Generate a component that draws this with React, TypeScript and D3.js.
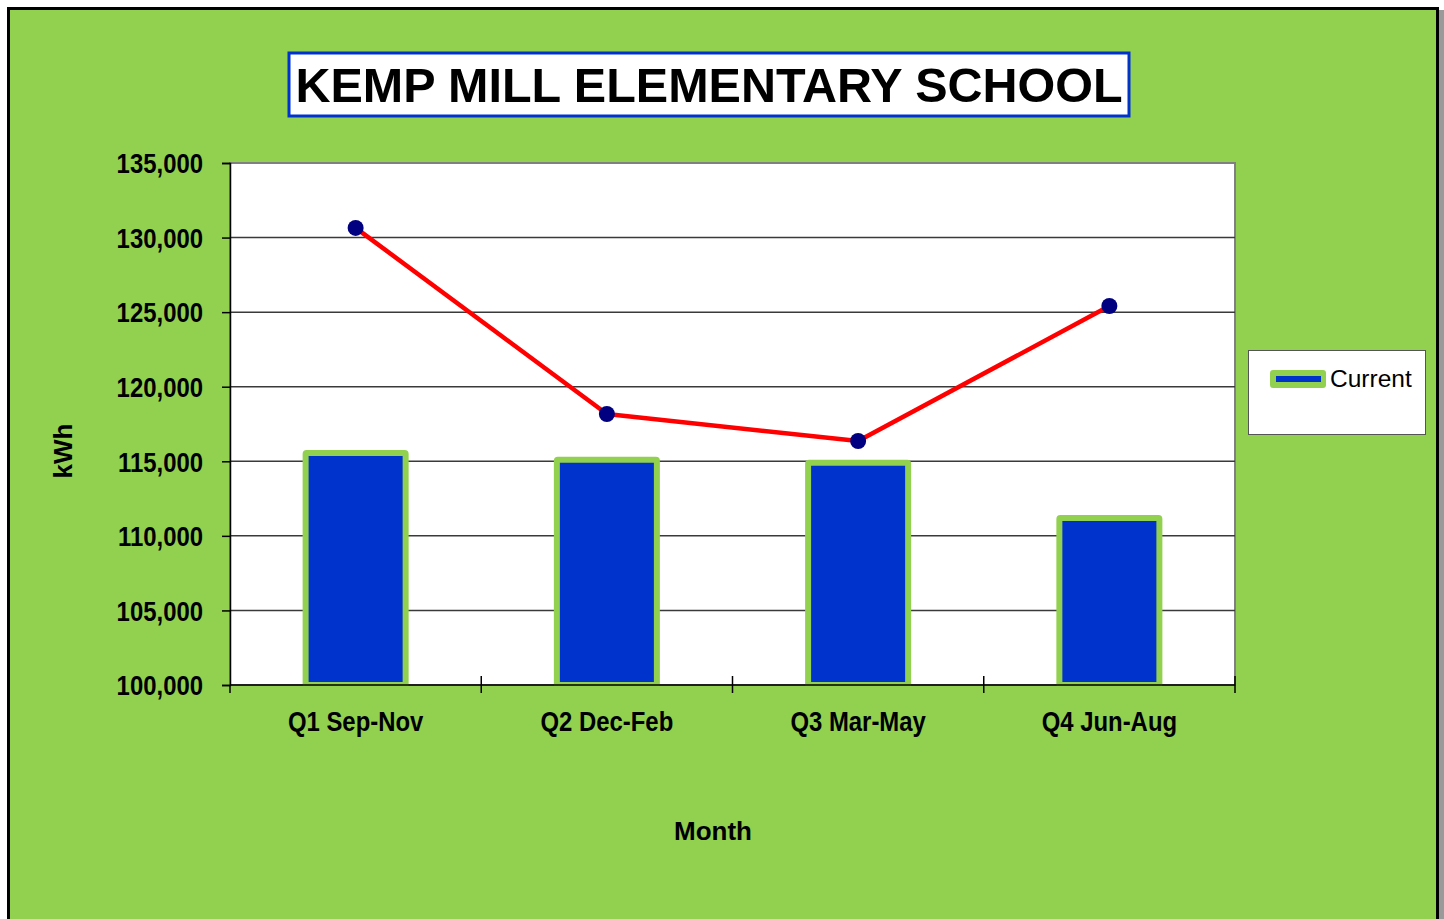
import React, { useEffect, useRef } from "react";
import * as d3 from "d3";

const quarters = ["Q1 Sep-Nov", "Q2 Dec-Feb", "Q3 Mar-May", "Q4 Jun-Aug"];
const currentKwh = [115550, 115100, 114900, 111200];
const previousKwh = [130650, 118170, 116360, 125410];
const yTicks = [100000, 105000, 110000, 115000, 120000, 125000, 130000, 135000];

const GREEN = "#92d050";
const BLUE = "#0033cc";
const sans = "'Liberation Sans', Arial, sans-serif";

// squeeze bold text to mimic a narrow face
const narrowize = (sel: any, ratio: number) => {
  sel.each(function (this: SVGTextElement) {
    const w = this.getComputedTextLength();
    d3.select(this).attr("textLength", w * ratio).attr("lengthAdjust", "spacingAndGlyphs");
  });
};

const App = () => {
  const ref = useRef<SVGSVGElement>(null);

  useEffect(() => {
    document.body.style.margin = "0";
    const svg = d3.select(ref.current);
    svg.selectAll("*").remove();

    const left = 230, right = 1235, top = 163, bottom = 685;

    // frame
    svg.append("rect").attr("x", 0).attr("y", 0).attr("width", 1444).attr("height", 919).attr("fill", "#fff");
    svg.append("rect").attr("x", 1438).attr("y", 10).attr("width", 6).attr("height", 909).attr("fill", "#9a9a9a");
    svg.append("rect").attr("x", 8.5).attr("y", 8.5).attr("width", 1429).attr("height", 920)
      .attr("fill", GREEN).attr("stroke", "#000").attr("stroke-width", 3);

    // title
    svg.append("rect").attr("x", 289).attr("y", 53).attr("width", 840).attr("height", 63)
      .attr("fill", "#fff").attr("stroke", BLUE).attr("stroke-width", 3);
    svg.append("text").text("KEMP MILL ELEMENTARY SCHOOL")
      .attr("x", 709).attr("y", 102).attr("text-anchor", "middle")
      .attr("font-family", sans).attr("font-weight", "bold").attr("font-size", "48.5px");

    const x = d3.scaleBand().domain(quarters).range([left, right]).paddingInner(0.578).paddingOuter(0.289);
    const band = d3.scaleBand().domain(quarters).range([left, right]);
    const y = d3.scaleLinear().domain([100000, 135000]).range([bottom, top]);

    // plot area
    svg.append("rect").attr("x", left).attr("y", top).attr("width", right - left).attr("height", bottom - top)
      .attr("fill", "#fff").attr("stroke", "#808080").attr("stroke-width", 2);

    svg.append("g").selectAll("line").data(yTicks.slice(1, -1)).join("line")
      .attr("x1", left).attr("x2", right).attr("y1", (d) => y(d)).attr("y2", (d) => y(d))
      .attr("stroke", "#3a3a3a").attr("stroke-width", 1.5);

    // bars
    svg.append("g").selectAll("rect").data(currentKwh).join("rect")
      .attr("x", (d, i) => x(quarters[i])! + 3)
      .attr("y", (d) => y(d))
      .attr("width", x.bandwidth() - 6)
      .attr("height", (d) => bottom - y(d))
      .attr("fill", BLUE).attr("stroke", GREEN).attr("stroke-width", 6)
      .attr("rx", 1);

    // axes
    const yAxis = d3.axisLeft(y).tickValues(yTicks).tickSize(8).tickFormat(d3.format(","));
    const gy = svg.append("g").attr("transform", `translate(${left},0)`).call(yAxis);
    gy.select(".domain").attr("stroke", "#000").attr("stroke-width", 1.5);
    gy.selectAll(".tick line").attr("stroke", "#000").attr("stroke-width", 1.5);
    const yLabels = gy.selectAll(".tick text").attr("x", -27).attr("dy", "0.36em")
      .attr("font-family", sans).attr("font-weight", "bold").attr("font-size", "27px").attr("fill", "#000");
    narrowize(yLabels, 0.885);

    const xTickPos = [left, ...quarters.map((q) => band(q)! + band.bandwidth())];
    svg.append("line").attr("x1", left).attr("x2", right).attr("y1", bottom).attr("y2", bottom)
      .attr("stroke", "#000").attr("stroke-width", 1.5);
    svg.append("g").selectAll("line").data(xTickPos).join("line")
      .attr("x1", (d) => d).attr("x2", (d) => d).attr("y1", (d, i) => (i === 0 ? bottom : bottom - 9)).attr("y2", bottom + 8)
      .attr("stroke", "#000").attr("stroke-width", 1.5);
    const xLabels = svg.append("g").selectAll("text").data(quarters).join("text")
      .text((d) => d)
      .attr("x", (d) => band(d)! + band.bandwidth() / 2).attr("y", 731).attr("text-anchor", "middle")
      .attr("font-family", sans).attr("font-weight", "bold").attr("font-size", "27px");
    narrowize(xLabels, 0.885);

    // line
    const line = d3.line<number>().x((d, i) => band(quarters[i])! + band.bandwidth() / 2).y((d) => y(d));
    svg.append("path").datum(previousKwh).attr("d", line).attr("fill", "none")
      .attr("stroke", "#ff0000").attr("stroke-width", 4.5).attr("stroke-linejoin", "round");
    svg.append("g").selectAll("circle").data(previousKwh).join("circle")
      .attr("cx", (d, i) => band(quarters[i])! + band.bandwidth() / 2).attr("cy", (d) => y(d))
      .attr("r", 8).attr("fill", "#000080");

    // axis titles
    svg.append("text").text("Month").attr("x", 713).attr("y", 840).attr("text-anchor", "middle")
      .attr("font-family", sans).attr("font-weight", "bold").attr("font-size", "26px");
    svg.append("text").text("kWh").attr("transform", "translate(72,451) rotate(-90)").attr("text-anchor", "middle")
      .attr("font-family", sans).attr("font-weight", "bold").attr("font-size", "26px");

    // legend
    svg.append("rect").attr("x", 1248.5).attr("y", 350.5).attr("width", 177).attr("height", 84)
      .attr("fill", "#fff").attr("stroke", "#555").attr("stroke-width", 1);
    svg.append("rect").attr("x", 1270).attr("y", 370).attr("width", 56).attr("height", 18).attr("rx", 3).attr("fill", GREEN);
    svg.append("rect").attr("x", 1276).attr("y", 376).attr("width", 45).attr("height", 6).attr("fill", BLUE);
    svg.append("text").text("Current").attr("x", 1330).attr("y", 387)
      .attr("font-family", sans).attr("font-size", "24.5px");
  }, []);

  return <svg ref={ref} width={1444} height={919} style={{ display: "block" }}></svg>;
};

export default App;
